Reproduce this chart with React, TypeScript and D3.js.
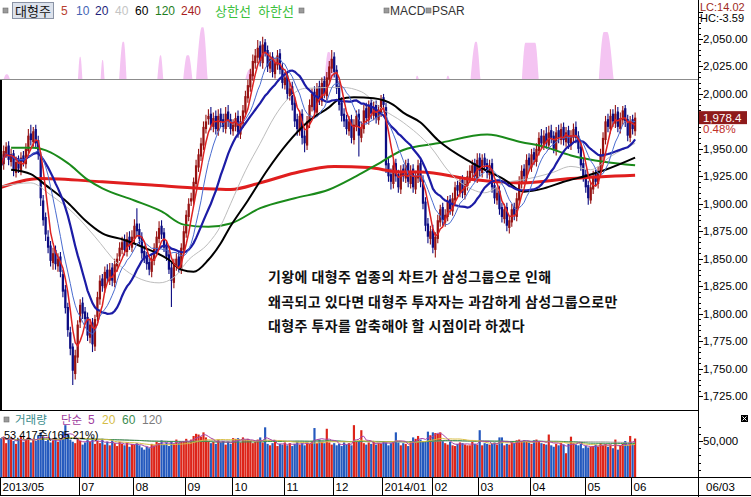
import * as d3 from "d3";

// ---- layout ----
const W = 751;
const H = 497;
const AXIS_X = 698;
const SLOTS = 283; // candle slots across the plot (incl. empty space on the right)
const PLOT_BOTTOM = 410;
const MACD_BASE = 79;
const VOL_TOP = 411;
const VOL_BOTTOM = 477;

const NUM_FONT = "'Liberation Sans', Arial, sans-serif";
const KR_FONT = "'Noto Sans CJK KR', 'Noto Sans', sans-serif";

// ---- daily OHLC (대형주 index), 2013/05 mid -> 2014/06/03 ----
const opens = [
  1945, 1936, 1946, 1953, 1938, 1946, 1928, 1940, 1930, 1944,
  1936, 1948, 1964, 1956, 1968, 1958, 1944, 1903, 1888, 1870,
  1862, 1846, 1858, 1843, 1852, 1836, 1822, 1806, 1783, 1770,
  1745, 1760, 1792, 1810, 1802, 1797, 1778, 1792, 1770, 1797,
  1813, 1832, 1823, 1840, 1830, 1842, 1828, 1843, 1852, 1858,
  1867, 1856, 1870, 1860, 1868, 1882, 1877, 1870, 1857, 1852,
  1847, 1838, 1848, 1858, 1868, 1880, 1874, 1862, 1854, 1842,
  1828, 1843, 1852, 1840, 1858, 1873, 1888, 1902, 1903, 1918,
  1933, 1943, 1953, 1968, 1977, 1982, 1970, 1980, 1966, 1982,
  1977, 1968, 1984, 1977, 1966, 1970, 1980, 1963, 1973, 1983,
  1996, 2006, 2016, 2028, 2033, 2044, 2028, 2047, 2040, 2023,
  2034, 2018, 2026, 2037, 2024, 2008, 2017, 1998, 2007, 1992,
  1977, 1966, 1982, 1962, 1953, 1973, 1988, 2002, 1983, 2007,
  1993, 2012, 1998, 2013, 2023, 2034, 2022, 2007, 1992, 1982,
  1977, 1966, 1977, 1958, 1970, 1982, 1960, 1968, 1987, 1976,
  1992, 1980, 1990, 1976, 1983, 1997, 1988, 1937, 1927, 1918,
  1937, 1927, 1913, 1932, 1923, 1937, 1918, 1932, 1913, 1923,
  1937, 1922, 1902, 1882, 1868, 1877, 1858, 1868, 1883, 1897,
  1883, 1888, 1904, 1893, 1903, 1917, 1910, 1922, 1908, 1916,
  1923, 1928, 1937, 1923, 1942, 1928, 1942, 1937, 1926, 1937,
  1917, 1903, 1912, 1897, 1886, 1897, 1878, 1883, 1897, 1888,
  1903, 1918, 1932, 1923, 1942, 1933, 1947, 1938, 1948, 1962,
  1953, 1964, 1953, 1967, 1962, 1948, 1967, 1958, 1970, 1956,
  1967, 1953, 1960, 1970, 1962, 1952, 1937, 1927, 1917, 1903,
  1913, 1927, 1918, 1928, 1943, 1958, 1977, 1968, 1982, 1973,
  1984, 1968, 1976, 1987, 1977, 1960, 1977, 1966,
];
const highs = [
  1950, 1953, 1956, 1957, 1950, 1949, 1943, 1944, 1947, 1948,
  1955, 1968, 1972, 1970, 1972, 1962, 1947, 1908, 1892, 1876,
  1866, 1860, 1862, 1855, 1856, 1840, 1826, 1810, 1788, 1773,
  1767, 1794, 1813, 1815, 1806, 1801, 1795, 1796, 1799, 1820,
  1835, 1836, 1843, 1845, 1846, 1846, 1850, 1855, 1865, 1870,
  1872, 1874, 1875, 1876, 1886, 1896, 1882, 1874, 1862, 1856,
  1851, 1854, 1864, 1875, 1884, 1885, 1878, 1866, 1858, 1846,
  1850, 1855, 1856, 1864, 1880, 1894, 1905, 1910, 1924, 1940,
  1950, 1960, 1975, 1981, 1986, 1988, 1983, 1985, 1986, 1987,
  1982, 1988, 1990, 1982, 1977, 1983, 1985, 1980, 1990, 2003,
  2013, 2023, 2036, 2041, 2049, 2048, 2052, 2050, 2044, 2038,
  2038, 2033, 2040, 2041, 2028, 2020, 2021, 2010, 2011, 1997,
  1982, 1985, 1986, 1967, 1980, 1995, 2005, 2007, 2010, 2012,
  2015, 2016, 2020, 2030, 2040, 2038, 2026, 2012, 1997, 1987,
  1981, 1980, 1981, 1977, 1985, 1986, 1975, 1990, 1992, 1994,
  1996, 1993, 1994, 1990, 1999, 2000, 1992, 1942, 1932, 1940,
  1941, 1931, 1935, 1936, 1940, 1941, 1935, 1936, 1930, 1940,
  1941, 1926, 1906, 1887, 1880, 1881, 1874, 1890, 1899, 1901,
  1895, 1907, 1908, 1910, 1920, 1921, 1925, 1926, 1923, 1930,
  1935, 1940, 1941, 1946, 1946, 1945, 1946, 1941, 1940, 1941,
  1921, 1915, 1916, 1901, 1900, 1901, 1889, 1900, 1901, 1910,
  1925, 1935, 1936, 1945, 1946, 1950, 1951, 1955, 1965, 1968,
  1967, 1970, 1971, 1972, 1966, 1970, 1972, 1973, 1974, 1970,
  1971, 1967, 1973, 1975, 1966, 1956, 1941, 1931, 1921, 1920,
  1930, 1931, 1934, 1950, 1965, 1980, 1982, 1986, 1986, 1990,
  1988, 1983, 1989, 1990, 1981, 1980, 1981, 1983,
];
const lows = [
  1930, 1931, 1942, 1935, 1934, 1925, 1924, 1928, 1926, 1934,
  1932, 1944, 1953, 1952, 1950, 1940, 1898, 1880, 1866, 1855,
  1843, 1840, 1840, 1838, 1833, 1815, 1800, 1779, 1762, 1735,
  1740, 1755, 1787, 1795, 1790, 1775, 1773, 1765, 1766, 1793,
  1808, 1820, 1819, 1828, 1826, 1825, 1824, 1838, 1848, 1854,
  1853, 1852, 1858, 1856, 1864, 1870, 1863, 1850, 1846, 1840,
  1835, 1833, 1844, 1854, 1864, 1868, 1856, 1848, 1836, 1806,
  1823, 1839, 1837, 1836, 1854, 1869, 1884, 1898, 1899, 1914,
  1929, 1939, 1949, 1964, 1972, 1967, 1965, 1963, 1962, 1970,
  1965, 1964, 1970, 1963, 1962, 1966, 1960, 1959, 1969, 1979,
  1992, 2002, 2012, 2023, 2028, 2025, 2023, 2034, 2020, 2019,
  2015, 2014, 2022, 2018, 2005, 2004, 1995, 1994, 1985, 1970,
  1962, 1962, 1954, 1947, 1949, 1969, 1984, 1980, 1979, 1990,
  1989, 1996, 1994, 2009, 2019, 2015, 2000, 1985, 1975, 1970,
  1963, 1962, 1955, 1954, 1966, 1943, 1956, 1964, 1973, 1972,
  1977, 1976, 1973, 1972, 1979, 1985, 1928, 1920, 1913, 1914,
  1920, 1910, 1909, 1920, 1919, 1915, 1914, 1910, 1909, 1919,
  1915, 1895, 1875, 1864, 1863, 1855, 1851, 1864, 1879, 1880,
  1879, 1884, 1890, 1889, 1899, 1907, 1906, 1905, 1904, 1912,
  1919, 1924, 1920, 1919, 1925, 1924, 1930, 1923, 1922, 1910,
  1900, 1899, 1890, 1883, 1882, 1875, 1873, 1879, 1885, 1884,
  1899, 1914, 1920, 1919, 1930, 1929, 1935, 1934, 1944, 1950,
  1949, 1950, 1949, 1955, 1946, 1944, 1955, 1954, 1953, 1952,
  1950, 1949, 1956, 1955, 1946, 1930, 1920, 1910, 1899, 1900,
  1909, 1916, 1914, 1924, 1939, 1954, 1965, 1964, 1970, 1969,
  1965, 1964, 1972, 1970, 1957, 1956, 1963, 1962,
];
const closes = [
  1935, 1948, 1952, 1940, 1945, 1930, 1938, 1932, 1942, 1938,
  1950, 1962, 1958, 1966, 1955, 1945, 1905, 1885, 1872, 1860,
  1848, 1855, 1845, 1850, 1838, 1820, 1805, 1785, 1768, 1748,
  1762, 1790, 1808, 1800, 1795, 1780, 1790, 1772, 1795, 1815,
  1830, 1825, 1838, 1832, 1840, 1830, 1845, 1850, 1860, 1865,
  1858, 1868, 1862, 1870, 1880, 1875, 1868, 1855, 1850, 1845,
  1840, 1850, 1860, 1870, 1878, 1872, 1860, 1852, 1840, 1830,
  1845, 1850, 1842, 1860, 1875, 1890, 1900, 1905, 1920, 1935,
  1945, 1955, 1970, 1975, 1980, 1972, 1978, 1968, 1980, 1975,
  1970, 1982, 1975, 1968, 1972, 1978, 1965, 1975, 1985, 1998,
  2008, 2018, 2030, 2035, 2042, 2030, 2045, 2038, 2025, 2032,
  2020, 2028, 2035, 2022, 2010, 2015, 2000, 2005, 1990, 1975,
  1968, 1980, 1960, 1955, 1975, 1990, 2000, 1985, 2005, 1995,
  2010, 2000, 2015, 2025, 2032, 2020, 2005, 1990, 1980, 1975,
  1968, 1975, 1960, 1972, 1980, 1962, 1970, 1985, 1978, 1990,
  1982, 1988, 1978, 1985, 1995, 1990, 1935, 1925, 1920, 1935,
  1925, 1915, 1930, 1925, 1935, 1920, 1930, 1915, 1925, 1935,
  1920, 1900, 1880, 1870, 1875, 1860, 1870, 1885, 1895, 1885,
  1890, 1902, 1895, 1905, 1915, 1912, 1920, 1910, 1918, 1925,
  1930, 1935, 1925, 1940, 1930, 1940, 1935, 1928, 1935, 1915,
  1905, 1910, 1895, 1888, 1895, 1880, 1885, 1895, 1890, 1905,
  1920, 1930, 1925, 1940, 1935, 1945, 1940, 1950, 1960, 1955,
  1962, 1955, 1965, 1960, 1950, 1965, 1960, 1968, 1958, 1965,
  1955, 1962, 1968, 1960, 1950, 1935, 1925, 1915, 1905, 1915,
  1925, 1920, 1930, 1945, 1960, 1975, 1970, 1980, 1975, 1982,
  1970, 1978, 1985, 1975, 1962, 1975, 1968, 1978.4,
];
// 거래량, thousand shares
const volumes = [
  54, 56, 47, 52, 55, 50, 46, 53, 57, 49,
  52, 55, 48, 53, 50, 58, 62, 54, 50, 52,
  48, 51, 55, 49, 53, 63, 72, 60, 52, 49,
  47, 54, 50, 45, 48, 52, 49, 55, 46, 50,
  47, 53, 45, 49, 44, 51, 47, 43, 49, 46,
  44, 48, 42, 46, 45, 47, 44, 41, 38, 42,
  40, 46, 44, 49, 47, 51, 45, 48, 43, 50,
  46, 52, 47, 49, 50, 53, 48, 52, 57, 60,
  59, 56, 62, 55, 50, 47, 49, 46, 52, 48,
  50, 45, 49, 46, 54, 53, 54, 48, 55, 52,
  53, 50, 47, 49, 52, 55, 48, 69, 46, 44,
  47, 49, 43, 46, 45, 48, 44, 47, 43, 46,
  49, 45, 47, 44, 48, 46, 50, 68, 47, 52,
  49, 47, 67, 48, 45, 47, 44, 46, 43, 48,
  45, 47, 44, 72, 50, 49, 65, 47, 45, 48,
  46, 49, 45, 47, 46, 50, 48, 44, 47, 49,
  62, 48, 44, 47, 46, 43, 50, 55, 53, 57,
  52, 50, 49, 63, 58, 62, 61, 60, 62, 50,
  47, 45, 49, 44, 43, 46, 48, 47, 45, 44,
  44, 49, 46, 45, 65, 44, 47, 46, 45, 46,
  48, 45, 55, 55, 44, 46, 45, 49, 47, 51,
  52, 50, 51, 49, 48, 46, 51, 52, 50, 47,
  46, 45, 59, 44, 42, 46, 44, 47, 45, 33,
  46, 56, 47, 45, 44, 46, 40, 43, 41, 42,
  43, 45, 42, 47, 44, 46, 42, 45, 40, 52,
  38, 44, 46, 50, 44, 57, 46, 53.417,
];

// long moving averages: [candle index, value]
const ma40: [number, number][] = [
  [0, 1916], [12, 1919], [20, 1908], [30, 1890], [38, 1870], [47, 1846], [57, 1831],
  [64, 1828], [70, 1833], [76, 1849], [84, 1864], [89, 1880], [93, 1900], [99, 1930],
  [105, 1955], [111, 1980], [116, 1995], [123, 2005], [138, 2006], [146, 2002],
  [154, 1987], [163, 1974], [174, 1952], [182, 1928], [191, 1913], [196, 1910],
  [204, 1919], [212, 1922], [223, 1928], [231, 1934], [239, 1931], [247, 1943], [257, 1955],
];
const ma60: [number, number][] = [
  [4, 1931], [12, 1927], [18, 1917], [27, 1901], [34, 1885], [41, 1873], [50, 1867],
  [58, 1860], [68, 1849], [73, 1840], [78, 1838], [84, 1849], [89, 1864], [92, 1876],
  [100, 1903], [108, 1931], [116, 1955], [124, 1974], [133, 1988], [137, 1995],
  [143, 1997], [151, 1996], [159, 1990], [163, 1983], [170, 1974], [177, 1958],
  [191, 1937], [204, 1922], [212, 1911], [220, 1914], [228, 1920], [238, 1926],
  [245, 1931], [257, 1942],
];
const ma120: [number, number][] = [
  [4, 1951], [13, 1951], [27, 1937], [35, 1922], [41, 1914], [54, 1903], [65, 1893],
  [74, 1881], [84, 1879], [93, 1882], [105, 1896], [119, 1905], [133, 1913],
  [143, 1924], [151, 1934], [163, 1949], [177, 1955], [197, 1963], [211, 1956],
  [220, 1952], [231, 1944], [245, 1938], [257, 1935],
];
const ma240: [number, number][] = [
  [0, 1915], [16, 1923], [41, 1920], [61, 1917], [81, 1914], [93, 1913], [105, 1919],
  [119, 1928], [135, 1934], [149, 1933], [162, 1929], [170, 1929], [191, 1922],
  [211, 1919], [231, 1923], [257, 1926],
];

// MACD/PSAR pink humps: [start, top from, top to, end, height 0..1]
const macdHumps: [number, number, number, number, number][] = [
  [1.5, 2.5, 3, 4, 0.09],
  [31.6, 32.4, 32.6, 33.4, 0.41],
  [40.8, 41.5, 41.7, 42.4, 0.35],
  [48.3, 49.8, 50.2, 51.3, 0.69],
  [63.8, 65, 65.2, 66.2, 0.44],
  [74.3, 75.8, 76.5, 78, 0.44],
  [79.5, 81.8, 82.4, 84.2, 0.96],
  [99.5, 101, 101.5, 102.8, 0.17],
  [131.6, 133, 133.5, 135.2, 0.5],
  [168.6, 169, 169.2, 169.8, 0.06],
  [181, 181.5, 181.7, 182.3, 0.06],
  [190.8, 192.8, 193.2, 194.8, 0.69],
  [211.6, 213, 217, 218.4, 0.67],
  [242.8, 244.8, 246.2, 248.8, 0.87],
];

const priceLabels = [2050, 2025, 2000, 1950, 1925, 1900, 1875, 1850, 1825, 1800, 1775, 1750, 1725];
const monthIdx = [0, 32, 54, 75, 94, 115, 135, 155, 175, 194, 215, 237, 256];
const monthLabels = ["2013/05", "07", "08", "09", "10", "11", "12", "2014/01", "02", "03", "04", "05", "06"];

const annotation = [
  "기왕에 대형주 업종의 차트가 삼성그룹으로 인해",
  "왜곡되고 있다면 대형주 투자자는 과감하게 삼성그룹으로만",
  "대형주 투자를 압축해야 할 시점이라 하겠다",
];

const UP = "#961212";
const DOWN = "#0C0C82";

function sma(values: number[], n: number) {
  return values.map((_, i) => d3.mean(values.slice(Math.max(0, i - n + 1), i + 1)) as number);
}

function LegendBox({ x, y }: { x: number; y: number }) {
  return <rect x={x} y={y} width={5} height={5} fill="#9A9A9A" stroke="#6E6E6E" strokeWidth={0.6} />;
}

export default function App() {
  const xi = d3.scaleLinear().domain([0, SLOTS]).range([0, AXIS_X]);
  const cx = (i: number) => xi(i + 0.5);
  const step = xi(1) - xi(0);
  const yP = d3.scaleLinear().domain([1725, 2050]).range([396, 39]);
  const yV = d3.scaleLinear().domain([0, 50]).range([VOL_BOTTOM, 441]);
  const yM = d3.scaleLinear().domain([0, 1]).range([MACD_BASE, 25]);

  const ma5 = sma(closes, 5);
  const ma10 = sma(closes, 10);
  const ma20 = sma(closes, 20);
  const vma5 = sma(volumes, 5);
  const vma20 = sma(volumes, 20);
  const vma60 = sma(volumes, 60);
  const vma120 = sma(volumes, 120);

  const calcLine = d3.line<number>().x((_, i) => cx(i)).y((d) => yP(d));
  const readLine = d3
    .line<[number, number]>()
    .x((d) => cx(d[0]))
    .y((d) => yP(d[1]))
    .curve(d3.curveMonotoneX);
  const volLine = d3.line<number>().x((_, i) => cx(i)).y((d) => yV(d));
  const humpArea = d3
    .area<[number, number]>()
    .x((d) => xi(d[0]))
    .y0(MACD_BASE)
    .y1((d) => yM(d[1]))
    .curve(d3.curveMonotoneX);

  const minorTicks = d3.range(1725, 2076, 5);
  const volTicks = d3.range(10, 71, 10);
  const last = closes[closes.length - 1];
  const lastY = yP(last);
  const bodyW = step * 0.92;

  return (
    <svg
      width={W}
      height={H}
      viewBox={`0 0 ${W} ${H}`}
      style={{ position: "absolute", left: 0, top: 0, background: "#fff" }}
    >
      <defs>
        <clipPath id="plotClip">
          <rect x={0} y={0} width={AXIS_X} height={PLOT_BOTTOM} />
        </clipPath>
        <clipPath id="volClip">
          <rect x={0} y={VOL_TOP} width={AXIS_X} height={VOL_BOTTOM - VOL_TOP} />
        </clipPath>
      </defs>
      <rect width={W} height={H} fill="#fff" />

      {/* MACD / PSAR overlay */}
      <g clipPath="url(#plotClip)">
        {macdHumps.map((h, k) => (
          <path
            key={k}
            d={humpArea([[h[0], 0], [h[1], h[4]], [h[2], h[4]], [h[3], 0]]) || ""}
            fill="#F4C4F2"
          />
        ))}
        <line x1={0} x2={AXIS_X} y1={MACD_BASE + 0.5} y2={MACD_BASE + 0.5} stroke="#8C8C8C" />

        {/* candles */}
        {closes.map((c, i) => {
          const o = opens[i];
          const col = c >= o ? UP : DOWN;
          const top = yP(Math.max(o, c));
          const bh = Math.max(1, Math.abs(yP(o) - yP(c)));
          return (
            <g key={i}>
              <line x1={cx(i)} x2={cx(i)} y1={yP(highs[i])} y2={yP(lows[i])} stroke={col} strokeWidth={1.1} />
              <rect x={cx(i) - bodyW / 2} y={top} width={bodyW} height={bh} fill={col} />
            </g>
          );
        })}

        {/* moving averages */}
        <path d={readLine(ma240) || ""} fill="none" stroke="#E01E1E" strokeWidth={3} />
        <path d={readLine(ma120) || ""} fill="none" stroke="#1A8A1A" strokeWidth={2} />
        <path d={readLine(ma40) || ""} fill="none" stroke="#BDBDBD" strokeWidth={1} />
        <path d={readLine(ma60) || ""} fill="none" stroke="#000" strokeWidth={2} />
        <path d={calcLine(ma20) || ""} fill="none" stroke="#1C1CA6" strokeWidth={2.2} />
        <path d={calcLine(ma10) || ""} fill="none" stroke="#4A6CD0" strokeWidth={1} />
        <path d={calcLine(ma5) || ""} fill="none" stroke="#DD2222" strokeWidth={1.5} />
      </g>

      {/* annotation */}
      {annotation.map((t, k) => (
        <text key={k} x={268} y={282 + k * 24.5} fontFamily={KR_FONT} fontSize={14} fontWeight={700} fill="#111" letterSpacing={0.4}>
          {t}
        </text>
      ))}

      {/* left border of main panel */}
      <rect x={0} y={80} width={2} height={PLOT_BOTTOM - 80} fill="#000" />

      {/* top legend */}
      <LegendBox x={3} y={8} />
      <rect x={12.5} y={2.5} width={41} height={16} fill="#DCE2EC" stroke="#8A93A5" />
      <text x={15} y={15.5} fontFamily={KR_FONT} fontSize={13} fill="#111">대형주</text>
      <g fontFamily={NUM_FONT} fontSize={12}>
        <text x={61} y={15} fill="#B8402E">5</text>
        <text x={76} y={15} fill="#4464B4">10</text>
        <text x={95} y={15} fill="#1E1E7A">20</text>
        <text x={115} y={15} fill="#C4C4C4">40</text>
        <text x={135} y={15} fill="#000">60</text>
        <text x={155} y={15} fill="#1E7E1E">120</text>
        <text x={181} y={15} fill="#A81E1E">240</text>
      </g>
      <text x={215} y={15.5} fontFamily={KR_FONT} fontSize={13} fill="#3CC03C">상한선</text>
      <text x={258} y={15.5} fontFamily={KR_FONT} fontSize={13} fill="#3CC03C">하한선</text>
      <LegendBox x={299} y={8} />
      <LegendBox x={384} y={8} />
      <text x={390} y={15} fontFamily={NUM_FONT} fontSize={12} fill="#333">MACD</text>
      <LegendBox x={426} y={8} />
      <text x={432} y={15} fontFamily={NUM_FONT} fontSize={12} fill="#333">PSAR</text>

      <text x={700} y={11} fontFamily={NUM_FONT} fontSize={11} fill="#9E2A22">LC:14.02</text>
      <text x={700} y={22} fontFamily={NUM_FONT} fontSize={11} fill="#000">HC:-3.59</text>

      {/* price axis */}
      <line x1={AXIS_X + 0.5} x2={AXIS_X + 0.5} y1={0} y2={H} stroke="#000" />
      {minorTicks.map((t) => (
        <line key={t} x1={AXIS_X} x2={AXIS_X + (t % 25 === 0 ? 5 : 3)} y1={Math.round(yP(t)) + 0.5} y2={Math.round(yP(t)) + 0.5} stroke="#000" />
      ))}
      {priceLabels.map((t) => (
        <text key={t} x={703} y={yP(t) + 4} fontFamily={NUM_FONT} fontSize={11.5} fill="#000">
          {d3.format(",.2f")(t)}
        </text>
      ))}
      <rect x={699} y={lastY - 6.5} width={48} height={13} fill="#8E1B1B" />
      <text x={703} y={lastY + 4} fontFamily={NUM_FONT} fontSize={11.5} fill="#fff">
        {d3.format(",.1f")(last)}
      </text>
      <text x={703} y={lastY + 15} fontFamily={NUM_FONT} fontSize={11.5} fill="#C0302A">0.48%</text>

      {/* volume panel */}
      <line x1={0} x2={AXIS_X} y1={VOL_TOP - 0.5} y2={VOL_TOP - 0.5} stroke="#000" />
      <g clipPath="url(#volClip)">
        {volumes.map((v, i) => (
          <rect
            key={i}
            x={cx(i) - (step - 0.3) / 2}
            y={yV(v)}
            width={step - 0.3}
            height={VOL_BOTTOM - yV(v)}
            fill={closes[i] >= opens[i] ? "#DD2419" : "#2459BE"}
          />
        ))}
        <path d={volLine(vma120) || ""} fill="none" stroke="#9A9A9A" strokeWidth={1} />
        <path d={volLine(vma60) || ""} fill="none" stroke="#3C9450" strokeWidth={1} />
        <path d={volLine(vma20) || ""} fill="none" stroke="#D8BE44" strokeWidth={1} />
        <path d={volLine(vma5) || ""} fill="none" stroke="#A844A8" strokeWidth={1} />
      </g>
      <LegendBox x={4} y={417} />
      <text x={15} y={424} fontFamily={KR_FONT} fontSize={11.5} fill="#3A8C8C">거래량</text>
      <text x={61} y={424} fontFamily={KR_FONT} fontSize={11.5} fill="#A040A0">단순</text>
      <g fontFamily={NUM_FONT} fontSize={12}>
        <text x={88} y={424} fill="#A040A0">5</text>
        <text x={102} y={424} fill="#D4BC46">20</text>
        <text x={122} y={424} fill="#3C8C50">60</text>
        <text x={142} y={424} fill="#7C7C7C">120</text>
      </g>
      <text x={4} y={439} fontFamily={`${NUM_FONT}, 'Noto Sans CJK KR'`} fontSize={11} fill="#000">
        {`${d3.format(",")(Math.round(volumes[volumes.length - 1] * 1000))}주(165.21%)`}
      </text>
      {volTicks.map((t) => (
        <line key={t} x1={AXIS_X} x2={AXIS_X + (t === 50 ? 5 : 3)} y1={Math.round(yV(t)) + 0.5} y2={Math.round(yV(t)) + 0.5} stroke="#000" />
      ))}
      <text x={703} y={yV(50) + 4} fontFamily={NUM_FONT} fontSize={11.5} fill="#000">50,000</text>
      <rect x={741} y={415} width={7} height={7} fill="#000" />
      <path d="M742.5,416.5 L746.5,420.5 M746.5,416.5 L742.5,420.5" stroke="#fff" strokeWidth={1} />

      {/* date axis */}
      <line x1={0} x2={W} y1={VOL_BOTTOM + 0.5} y2={VOL_BOTTOM + 0.5} stroke="#000" />
      <line x1={0} x2={W} y1={495.5} y2={495.5} stroke="#000" />
      {monthIdx.map((m, k) => {
        const x = Math.round(xi(m)) + 0.5;
        return (
          <g key={k}>
            <line x1={x} x2={x} y1={VOL_BOTTOM} y2={495} stroke="#000" />
            <text x={x + 2} y={491} fontFamily={NUM_FONT} fontSize={11.5} fill="#000">
              {monthLabels[k]}
            </text>
          </g>
        );
      })}
      <text x={706} y={491} fontFamily={NUM_FONT} fontSize={11.5} fill="#000">06/03</text>
    </svg>
  );
}
